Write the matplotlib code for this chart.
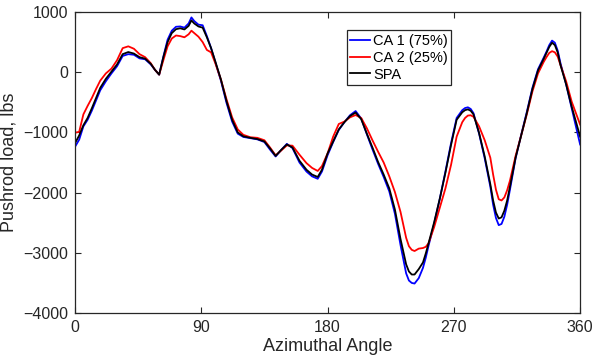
import matplotlib
matplotlib.use('Agg')
import matplotlib.pyplot as plt

# azimuthal angle samples (deg) shared by all three traces
angle = [0, 3, 6, 9, 12, 15, 18, 22, 26, 30, 34, 38, 42, 46, 50, 54, 57, 60,
         63, 66, 69, 72, 75, 78, 81, 83, 85, 88, 91, 94, 97, 100, 104, 108,
         112, 116, 120, 125, 130, 135, 139, 143, 147, 151, 155, 160, 165, 169,
         173, 176, 180, 184, 188, 192, 196, 200, 204, 208, 212, 216, 220, 224,
         228, 232, 236, 238, 240, 242, 245, 248, 250, 252, 256, 260, 264, 268,
         272, 276, 278, 280, 282, 284, 288, 292, 296, 298, 300, 302, 304, 306,
         308, 310, 314, 318, 322, 326, 330, 334, 336, 338, 340, 342, 344, 346,
         350, 354, 357, 360]

ca1 = [-1240, -1120, -900, -790, -640, -470, -300, -150, -20, 100, 270, 300,
       290, 230, 215, 130, 40, -40, 260, 540, 690, 755, 760, 740, 810, 910,
       850, 790, 780, 600, 400, 170, -140, -510, -820, -1020, -1075, -1095,
       -1115, -1160, -1285, -1400, -1290, -1190, -1260, -1500, -1650, -1730,
       -1770, -1650, -1380, -1160, -960, -830, -715, -645, -770, -1030, -1280,
       -1520, -1740, -1980, -2350, -2870, -3340, -3460, -3500, -3510, -3420,
       -3250, -3080, -2880, -2510, -2100, -1650, -1180,
       -760, -630, -595, -583, -610, -680, -1020, -1430, -1900, -2200, -2420,
       -2540, -2520, -2400, -2200, -1950, -1430, -1040, -660, -260,
       50, 240, 340, 450, 525, 490, 360, 150, -200, -600, -900, -1200]

ca2 = [-1005, -990, -700, -560, -430, -280, -140, -20, 60, 200, 400, 430,
       390, 300, 250, 150, 40, -40, 200, 430, 560, 610, 600, 580, 630, 690,
       650, 590, 500, 370, 330, 150, -120, -450, -750, -950, -1040, -1080,
       -1090, -1130, -1250, -1380, -1300, -1215, -1220, -1370, -1510, -1590,
       -1640, -1560, -1350, -1070, -860, -820, -750, -711, -760, -930, -1130,
       -1320, -1500, -1730, -1990, -2320, -2750, -2890, -2950, -2970, -2930,
       -2920, -2900, -2840, -2570, -2250, -1930, -1540,
       -1070, -830, -760, -720, -715, -740, -900, -1130, -1420, -1700, -1950,
       -2110, -2130, -2080, -1960, -1800, -1390, -1050, -700, -320,
       -20, 170, 250, 320, 350, 330, 260, 120, -150, -490, -680, -870]

spa = [-1180, -1050, -880, -760, -600, -430, -260, -110, 10, 130, 300, 335,
       310, 250, 225, 140, 40, -40, 250, 500, 650, 715, 730, 710, 770, 860,
       810, 760, 740, 580, 400, 180, -120, -480, -790, -1000, -1065, -1090,
       -1110, -1150, -1265, -1390, -1290, -1200, -1250, -1470, -1620, -1700,
       -1740, -1620, -1350, -1150, -950, -830, -728, -670, -780, -1020, -1250,
       -1490, -1700, -1930, -2280, -2770, -3190, -3310, -3360, -3360, -3270,
       -3160, -3010, -2840, -2490, -2100, -1670, -1210,
       -790, -665, -630, -617, -640, -700, -1010, -1400, -1860, -2130, -2330,
       -2430, -2410, -2300, -2130, -1900, -1420, -1050, -680, -280,
       30, 220, 320, 420, 490, 450, 330, 120, -200, -573, -820, -1071]

plt.rcParams['font.family'] = ['Liberation Sans', 'DejaVu Sans']
grey = '#262626'

fig = plt.figure(figsize=(5.95, 3.64), dpi=100)
ax = fig.add_axes([0.126, 0.140, 0.849, 0.827])

ax.plot(angle, ca1, color='#0000ff', lw=1.3, label='CA 1 (75%)')
ax.plot(angle, ca2, color='#ff0000', lw=1.3, label='CA 2 (25%)')
ax.plot(angle, spa, color='k', lw=1.3, label='SPA')

ax.set_xlim(0, 360)
ax.set_ylim(-4000, 1000)
ax.set_xticks([0, 90, 180, 270, 360])
ax.set_yticks([-4000, -3000, -2000, -1000, 0, 1000])
ax.tick_params(direction='in', top=True, right=True, length=4, width=0.8,
               labelsize=11.5, colors=grey, pad=5)
for s in ax.spines.values():
    s.set_color(grey)
    s.set_linewidth(0.9)

ax.set_xlabel('Azimuthal Angle', fontsize=13, color=grey, labelpad=2)
ax.set_ylabel('Pushrod load, lbs', fontsize=13, color=grey, labelpad=4)

leg = ax.legend(loc='upper left', bbox_to_anchor=(0.538, 0.94), fontsize=10.5,
                fancybox=False, framealpha=1, edgecolor=grey,
                handlelength=1.35, handletextpad=0.2, labelspacing=0.2,
                borderpad=0.25, borderaxespad=0)
leg.get_frame().set_linewidth(0.9)

fig.savefig('out.png', dpi=100)
